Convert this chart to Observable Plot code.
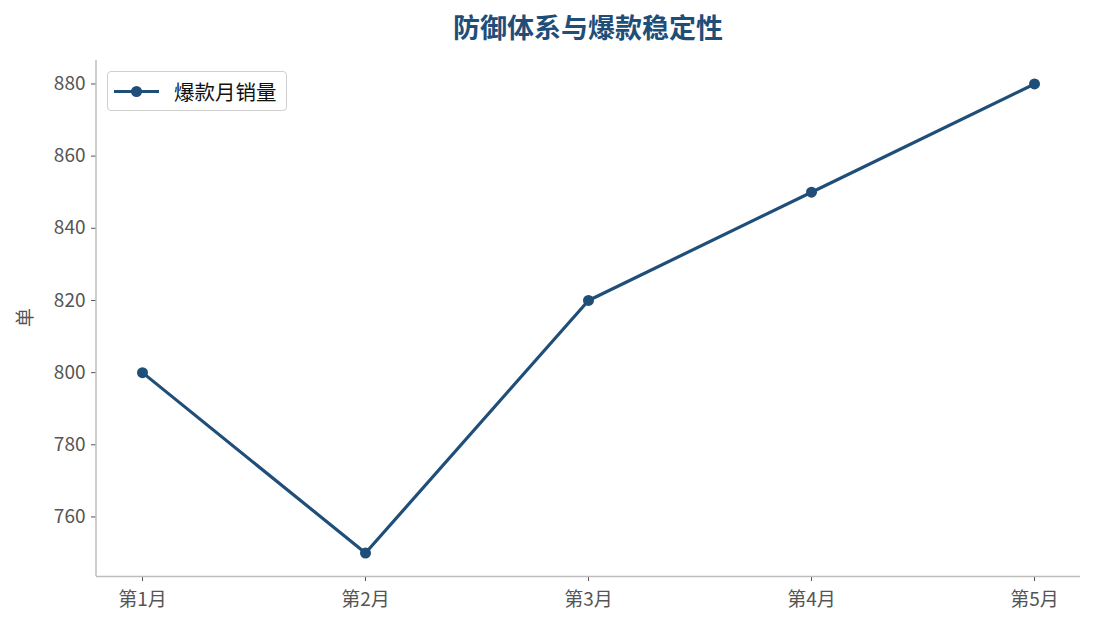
<!DOCTYPE html>
<html><head><meta charset="utf-8">
<script src="https://cdn.jsdelivr.net/npm/d3@7"></script>
<script src="https://cdn.jsdelivr.net/npm/@observablehq/plot@0.6"></script>
<style>
body{margin:0;background:#fff;font-family:"Noto Sans CJK SC","Noto Sans",sans-serif;}
#wrap{position:relative;width:1095px;height:629px;}
#title{position:absolute;left:96px;width:984px;top:9px;text-align:center;font-size:27px;font-weight:bold;color:#1f4e79;line-height:36px;}
#chart{position:absolute;left:0;top:50px;}
#legend{position:absolute;left:107px;top:71px;width:180px;height:40px;border:1.3px solid #cfcfcf;border-radius:4px;background:#fff;box-sizing:border-box;}
#legend .ln{position:absolute;left:6px;top:18px;width:45px;height:3px;background:#1f4e79;}
#legend .dt{position:absolute;left:23px;top:14px;width:11px;height:11px;border-radius:50%;background:#1f4e79;}
#legend .tx{position:absolute;left:66px;top:5px;font-size:20.5px;color:#111;line-height:28px;}
#ylab{position:absolute;left:14px;top:304px;font-size:19px;color:#555;transform:rotate(-90deg);}
</style></head>
<body><div id="wrap">
<div id="title">防御体系与爆款稳定性</div>
<div id="chart"></div>
<div id="ylab">单</div>
<div id="legend"><div class="ln"></div><div class="dt"></div><div class="tx">爆款月销量</div></div>
</div>
<script>
const months = ["第1月","第2月","第3月","第4月","第5月"];
const sales = [800, 750, 820, 850, 880];
const yTicks = [760, 780, 800, 820, 840, 860, 880];

const data = months.map((m,i)=>({month:m, value:sales[i]}));
const color = "#1f4e79";
const chart = Plot.plot({
  width: 1095, height: 579,
  marginTop: 10, marginBottom: 53, marginLeft: 96, marginRight: 15,
  style:{fontFamily:'"Noto Sans CJK SC","Noto Sans",sans-serif', fontSize:"19px", color:"#555", background:"#fff"},
  x:{type:"point", domain: months, padding:0.2, label:null},
  y:{domain:[743.5, 886.5], label:null},
  marks:[
    Plot.axisY({ticks:yTicks, tickSize:5, tickPadding:6, stroke:"#555", fill:"#555", fontSize:19, label:null}),
    Plot.axisX({tickSize:5, tickPadding:11, stroke:"#555", fill:"#555", fontSize:19, label:null}),
    Plot.ruleY([743.5],{stroke:"#bdbdbd", strokeWidth:1.5}),
    Plot.line(data,{x:"month", y:"value", stroke:color, strokeWidth:3.2}),
    Plot.dot(data,{x:"month", y:"value", fill:color, r:5.5})
  ]
});
document.getElementById("chart").appendChild(chart);
// left spine
d3.select(chart).append("line").attr("x1",96).attr("x2",96).attr("y1",10).attr("y2",526).attr("stroke","#bdbdbd").attr("stroke-width",1.5);
</script>
</body></html>
